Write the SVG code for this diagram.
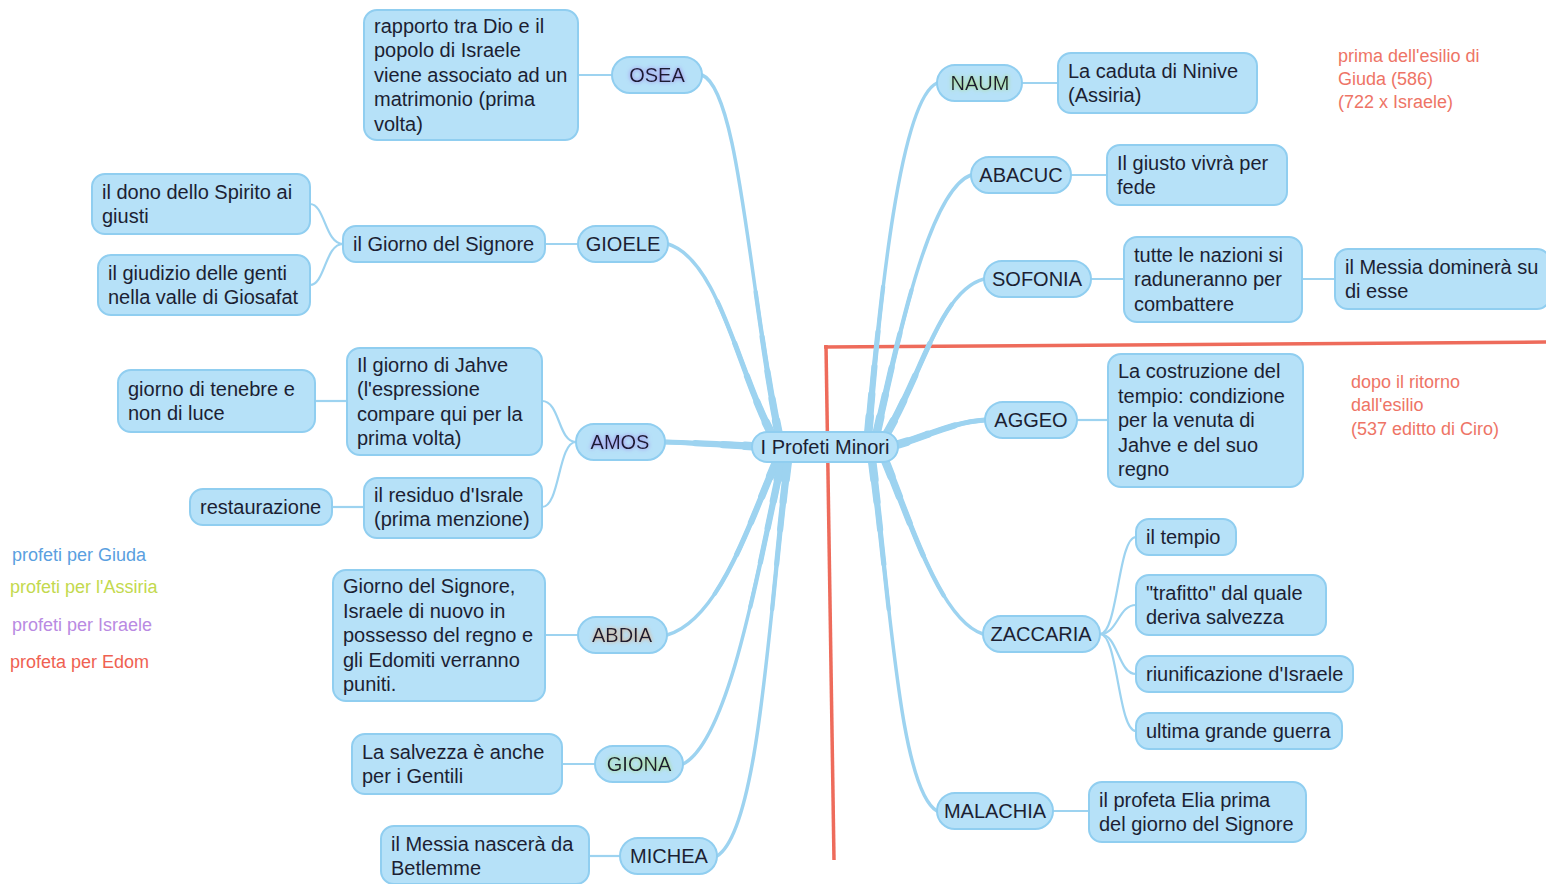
<svg xmlns="http://www.w3.org/2000/svg" width="1546" height="884" viewBox="0 0 1546 884">
<defs>
<style>
.box{fill:#b6e1f8;stroke:#90cef0;stroke-width:2}
.pill{fill:#b6e1f8;stroke:#90cef0;stroke-width:2}
.t{font-family:"Liberation Sans",Arial,sans-serif;font-size:20px;fill:#1c1f33}
.c{text-anchor:middle}
.m1{fill:none;stroke:#9dd3f0;stroke-width:3.5;stroke-linecap:round}
.ta{fill:none;stroke:#9dd3f0;stroke-width:4.3;stroke-linecap:round;stroke-dasharray:150 3000}
.tb{fill:none;stroke:#9dd3f0;stroke-width:5.2;stroke-linecap:round;stroke-dasharray:105 3000}
.tc{fill:none;stroke:#9dd3f0;stroke-width:6.2;stroke-linecap:round;stroke-dasharray:70 3000}
.td{fill:none;stroke:#9dd3f0;stroke-width:7.3;stroke-linecap:round;stroke-dasharray:42 3000}
.te{fill:none;stroke:#9dd3f0;stroke-width:8.5;stroke-linecap:round;stroke-dasharray:20 3000}
.sub{fill:none;stroke:#9dd3f0;stroke-width:2.2}
.red{fill:none;stroke:#ee6b5b;stroke-width:3.5}
.rt{font-family:"Liberation Sans",Arial,sans-serif;font-size:18px;fill:#ee7466}
.lg{font-family:"Liberation Sans",Arial,sans-serif;font-size:18px}
</style>
<path id="b1" d="M780 440 C750 300 740 90 702 75"/>
<path id="b2" d="M775 440 C740 380 720 260 668 244"/>
<path id="b3" d="M765 447 C730 445 700 443 665 442"/>
<path id="b4" d="M778 458 C750 520 720 620 667 635"/>
<path id="b5" d="M782 460 C760 560 730 740 683 764"/>
<path id="b6" d="M788 460 C770 600 760 830 717 856"/>
<path id="b7" d="M868 436 C880 300 900 100 937 83"/>
<path id="b8" d="M876 436 C900 330 930 190 971 175"/>
<path id="b9" d="M884 438 C920 380 940 290 984 279"/>
<path id="b10" d="M888 447 C920 440 950 422 985 420"/>
<path id="b11" d="M884 458 C910 520 940 620 983 634"/>
<path id="b12" d="M872 460 C890 600 900 790 937 811"/>
<filter id="gPur" x="-20%" y="-40%" width="140%" height="180%"><feGaussianBlur in="SourceAlpha" stdDeviation="2" result="b"/><feFlood flood-color="#9b7be8"/><feComposite in2="b" operator="in" result="g"/><feMerge><feMergeNode in="g"/><feMergeNode in="SourceGraphic"/></feMerge></filter>
<filter id="gGrn" x="-20%" y="-40%" width="140%" height="180%"><feGaussianBlur in="SourceAlpha" stdDeviation="2" result="b"/><feFlood flood-color="#a8dc70"/><feComposite in2="b" operator="in" result="g"/><feMerge><feMergeNode in="g"/><feMergeNode in="SourceGraphic"/></feMerge></filter>
<filter id="gOrg" x="-20%" y="-40%" width="140%" height="180%"><feGaussianBlur in="SourceAlpha" stdDeviation="2" result="b"/><feFlood flood-color="#e8a878"/><feComposite in2="b" operator="in" result="g"/><feMerge><feMergeNode in="g"/><feMergeNode in="SourceGraphic"/></feMerge></filter>
</defs>
<rect width="1546" height="884" fill="#ffffff"/>

<g id="separators">
<path class="red" d="M826 345 L834 860"/>
<path class="red" d="M824 347 L1546 342"/>
</g>

<g id="connectors">
<g id="main-branches">
<use href="#b1" class="m1"/><use href="#b2" class="m1"/><use href="#b3" class="m1"/><use href="#b4" class="m1"/><use href="#b5" class="m1"/><use href="#b6" class="m1"/>
<use href="#b7" class="m1"/><use href="#b8" class="m1"/><use href="#b9" class="m1"/><use href="#b10" class="m1"/><use href="#b11" class="m1"/><use href="#b12" class="m1"/>
</g>
<g id="tapers">
<use href="#b1" class="ta"/><use href="#b2" class="ta"/><use href="#b3" class="ta"/><use href="#b4" class="ta"/><use href="#b5" class="ta"/><use href="#b6" class="ta"/>
<use href="#b7" class="ta"/><use href="#b8" class="ta"/><use href="#b9" class="ta"/><use href="#b10" class="ta"/><use href="#b11" class="ta"/><use href="#b12" class="ta"/>
<use href="#b1" class="tb"/><use href="#b2" class="tb"/><use href="#b3" class="tb"/><use href="#b4" class="tb"/><use href="#b5" class="tb"/><use href="#b6" class="tb"/>
<use href="#b7" class="tb"/><use href="#b8" class="tb"/><use href="#b9" class="tb"/><use href="#b10" class="tb"/><use href="#b11" class="tb"/><use href="#b12" class="tb"/>
<use href="#b1" class="tc"/><use href="#b2" class="tc"/><use href="#b3" class="tc"/><use href="#b4" class="tc"/><use href="#b5" class="tc"/><use href="#b6" class="tc"/>
<use href="#b7" class="tc"/><use href="#b8" class="tc"/><use href="#b9" class="tc"/><use href="#b10" class="tc"/><use href="#b11" class="tc"/><use href="#b12" class="tc"/>
<use href="#b1" class="td"/><use href="#b2" class="td"/><use href="#b3" class="td"/><use href="#b4" class="td"/><use href="#b5" class="td"/><use href="#b6" class="td"/>
<use href="#b7" class="td"/><use href="#b8" class="td"/><use href="#b9" class="td"/><use href="#b10" class="td"/><use href="#b11" class="td"/><use href="#b12" class="td"/>
<use href="#b1" class="te"/><use href="#b2" class="te"/><use href="#b3" class="te"/><use href="#b4" class="te"/><use href="#b5" class="te"/><use href="#b6" class="te"/>
<use href="#b7" class="te"/><use href="#b8" class="te"/><use href="#b9" class="te"/><use href="#b10" class="te"/><use href="#b11" class="te"/><use href="#b12" class="te"/>
</g>
<g id="sub-branches">
<path class="sub" d="M612 75 L578 75"/>
<path class="sub" d="M578 244 L545 244"/>
<path class="sub" d="M343 244 C325 244 325 204 310 204"/>
<path class="sub" d="M343 244 C325 244 325 285 310 285"/>
<path class="sub" d="M576 442 C558 442 560 401 542 401"/>
<path class="sub" d="M576 442 C558 442 560 507 542 507"/>
<path class="sub" d="M347 401 L315 401"/>
<path class="sub" d="M364 507 L332 507"/>
<path class="sub" d="M578 635 L545 635"/>
<path class="sub" d="M595 764 L562 764"/>
<path class="sub" d="M620 856 L589 856"/>
<path class="sub" d="M1022 83 L1058 83"/>
<path class="sub" d="M1071 175 L1107 175"/>
<path class="sub" d="M1091 279 L1124 279"/>
<path class="sub" d="M1302 279 L1335 279"/>
<path class="sub" d="M1077 420 L1108 420"/>
<path class="sub" d="M1100 634 C1118 634 1118 537 1136 537"/>
<path class="sub" d="M1100 634 C1118 634 1118 605 1136 605"/>
<path class="sub" d="M1100 634 C1118 634 1118 674 1136 674"/>
<path class="sub" d="M1100 634 C1118 634 1118 731 1136 731"/>
<path class="sub" d="M1053 811 L1089 811"/>
</g>
</g>

<g id="center"><rect class="pill" x="752" y="432" width="146" height="30" rx="15"/><text class="t c" x="825" y="454">I Profeti Minori</text></g>

<g id="osea"><rect class="pill" x="612" y="57" width="90" height="36" rx="18"/><text class="t c" x="657" y="82" filter="url(#gPur)">OSEA</text></g>
<g id="osea-1"><rect class="box" x="364" y="10" width="214" height="130" rx="13"/><text class="t"><tspan x="374" y="32.5">rapporto tra Dio e il</tspan><tspan x="374" y="57">popolo di Israele</tspan><tspan x="374" y="81.5">viene associato ad un</tspan><tspan x="374" y="106">matrimonio (prima</tspan><tspan x="374" y="130.5">volta)</tspan></text></g>

<g id="gioele"><rect class="pill" x="578" y="226" width="90" height="36" rx="18"/><text class="t c" x="623" y="251">GIOELE</text></g>
<g id="gioele-1"><rect class="box" x="343" y="226" width="202" height="36" rx="13"/><text class="t" x="353" y="251">il Giorno del Signore</text></g>
<g id="gioele-2"><rect class="box" x="92" y="174" width="218" height="60" rx="13"/><text class="t"><tspan x="102" y="198.5">il dono dello Spirito ai</tspan><tspan x="102" y="223">giusti</tspan></text></g>
<g id="gioele-3"><rect class="box" x="98" y="255" width="212" height="60" rx="13"/><text class="t"><tspan x="108" y="279.5">il giudizio delle genti</tspan><tspan x="108" y="304">nella valle di Giosafat</tspan></text></g>

<g id="amos"><rect class="pill" x="576" y="424" width="89" height="36" rx="18"/><text class="t c" x="620" y="449" filter="url(#gPur)">AMOS</text></g>
<g id="amos-1"><rect class="box" x="347" y="348" width="195" height="107" rx="13"/><text class="t"><tspan x="357" y="371.5">Il giorno di Jahve</tspan><tspan x="357" y="396">(l'espressione</tspan><tspan x="357" y="420.5">compare qui per la</tspan><tspan x="357" y="445">prima volta)</tspan></text></g>
<g id="amos-2"><rect class="box" x="118" y="370" width="197" height="62" rx="13"/><text class="t"><tspan x="128" y="395.5">giorno di tenebre e</tspan><tspan x="128" y="420">non di luce</tspan></text></g>
<g id="amos-3"><rect class="box" x="364" y="478" width="178" height="60" rx="13"/><text class="t"><tspan x="374" y="501.5">il residuo d'Israle</tspan><tspan x="374" y="526">(prima menzione)</tspan></text></g>
<g id="amos-4"><rect class="box" x="190" y="489" width="142" height="36" rx="13"/><text class="t" x="200" y="514">restaurazione</text></g>

<g id="abdia"><rect class="pill" x="578" y="617" width="89" height="36" rx="18"/><text class="t c" x="622" y="642" filter="url(#gOrg)">ABDIA</text></g>
<g id="abdia-1"><rect class="box" x="333" y="570" width="212" height="131" rx="13"/><text class="t"><tspan x="343" y="593">Giorno del Signore,</tspan><tspan x="343" y="617.5">Israele di nuovo in</tspan><tspan x="343" y="642">possesso del regno e</tspan><tspan x="343" y="666.5">gli Edomiti verranno</tspan><tspan x="343" y="691">puniti.</tspan></text></g>

<g id="giona"><rect class="pill" x="595" y="746" width="88" height="36" rx="18"/><text class="t c" x="639" y="771" filter="url(#gGrn)">GIONA</text></g>
<g id="giona-1"><rect class="box" x="352" y="734" width="210" height="60" rx="13"/><text class="t"><tspan x="362" y="758.5">La salvezza è anche</tspan><tspan x="362" y="783">per i Gentili</tspan></text></g>

<g id="michea"><rect class="pill" x="620" y="838" width="97" height="36" rx="18"/><text class="t c" x="669" y="863">MICHEA</text></g>
<g id="michea-1"><rect class="box" x="381" y="826" width="208" height="58" rx="13"/><text class="t"><tspan x="391" y="850.5">il Messia nascerà da</tspan><tspan x="391" y="875">Betlemme</tspan></text></g>

<g id="naum"><rect class="pill" x="937" y="65" width="85" height="36" rx="18"/><text class="t c" x="980" y="90" filter="url(#gGrn)">NAUM</text></g>
<g id="naum-1"><rect class="box" x="1058" y="53" width="199" height="60" rx="13"/><text class="t"><tspan x="1068" y="77.5">La caduta di Ninive</tspan><tspan x="1068" y="102">(Assiria)</tspan></text></g>

<g id="abacuc"><rect class="pill" x="971" y="157" width="100" height="36" rx="18"/><text class="t c" x="1021" y="182">ABACUC</text></g>
<g id="abacuc-1"><rect class="box" x="1107" y="145" width="180" height="60" rx="13"/><text class="t"><tspan x="1117" y="169.5">Il giusto vivrà per</tspan><tspan x="1117" y="194">fede</tspan></text></g>

<g id="sofonia"><rect class="pill" x="984" y="261" width="107" height="36" rx="18"/><text class="t c" x="1037" y="286">SOFONIA</text></g>
<g id="sofonia-1"><rect class="box" x="1124" y="237" width="178" height="85" rx="13"/><text class="t"><tspan x="1134" y="261.5">tutte le nazioni si</tspan><tspan x="1134" y="286">raduneranno per</tspan><tspan x="1134" y="310.5">combattere</tspan></text></g>
<g id="sofonia-2"><rect class="box" x="1335" y="249" width="215" height="60" rx="13"/><text class="t"><tspan x="1345" y="273.5">il Messia dominerà su</tspan><tspan x="1345" y="298">di esse</tspan></text></g>

<g id="aggeo"><rect class="pill" x="985" y="402" width="92" height="36" rx="18"/><text class="t c" x="1031" y="427">AGGEO</text></g>
<g id="aggeo-1"><rect class="box" x="1108" y="354" width="195" height="133" rx="13"/><text class="t"><tspan x="1118" y="378">La costruzione del</tspan><tspan x="1118" y="402.5">tempio: condizione</tspan><tspan x="1118" y="427">per la venuta di</tspan><tspan x="1118" y="451.5">Jahve e del suo</tspan><tspan x="1118" y="476">regno</tspan></text></g>

<g id="zaccaria"><rect class="pill" x="983" y="616" width="117" height="36" rx="18"/><text class="t c" x="1041" y="641">ZACCARIA</text></g>
<g id="zaccaria-1"><rect class="box" x="1136" y="519" width="100" height="36" rx="13"/><text class="t" x="1146" y="544">il tempio</text></g>
<g id="zaccaria-2"><rect class="box" x="1136" y="575" width="190" height="60" rx="13"/><text class="t"><tspan x="1146" y="599.5">"trafitto" dal quale</tspan><tspan x="1146" y="624">deriva salvezza</tspan></text></g>
<g id="zaccaria-3"><rect class="box" x="1136" y="656" width="217" height="36" rx="13"/><text class="t" x="1146" y="681">riunificazione d'Israele</text></g>
<g id="zaccaria-4"><rect class="box" x="1136" y="713" width="206" height="36" rx="13"/><text class="t" x="1146" y="738">ultima grande guerra</text></g>

<g id="malachia"><rect class="pill" x="937" y="793" width="116" height="36" rx="18"/><text class="t c" x="995" y="818">MALACHIA</text></g>
<g id="malachia-1"><rect class="box" x="1089" y="782" width="217" height="60" rx="13"/><text class="t"><tspan x="1099" y="806.5">il profeta Elia prima</tspan><tspan x="1099" y="831">del giorno del Signore</tspan></text></g>

<g id="note-prima"><text class="rt"><tspan x="1338" y="62">prima dell'esilio di</tspan><tspan x="1338" y="85">Giuda (586)</tspan><tspan x="1338" y="108">(722 x Israele)</tspan></text></g>
<g id="note-dopo"><text class="rt"><tspan x="1351" y="388">dopo il ritorno</tspan><tspan x="1351" y="411">dall'esilio</tspan><tspan x="1351" y="435">(537 editto di Ciro)</tspan></text></g>

<g id="legend">
<text class="lg" x="12" y="561" fill="#5a9fe0">profeti per Giuda</text>
<text class="lg" x="10" y="593" fill="#c3d94e">profeti per l'Assiria</text>
<text class="lg" x="12" y="631" fill="#b98ae2">profeti per Israele</text>
<text class="lg" x="10" y="668" fill="#ef6152">profeta per Edom</text>
</g>
</svg>
